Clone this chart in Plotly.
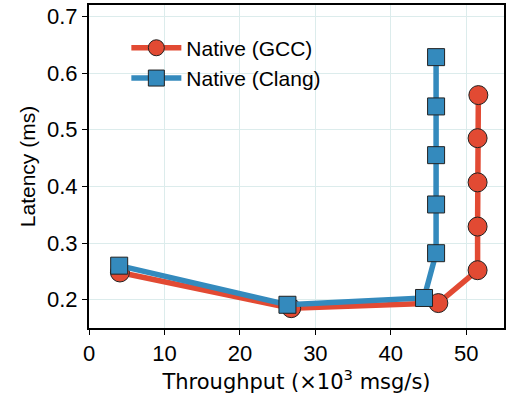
import plotly.graph_objects as go

gcc_x = [4.1, 26.8, 46.3, 51.5, 51.5, 51.5, 51.5, 51.6]
gcc_y = [0.248, 0.185, 0.194, 0.252, 0.329, 0.407, 0.485, 0.561]
clang_x = [4.0, 26.3, 44.4, 46.0, 46.0, 46.0, 46.0, 46.0]
clang_y = [0.260, 0.191, 0.203, 0.282, 0.368, 0.455, 0.541, 0.628]

x_ticks = [0, 10, 20, 30, 40, 50]
y_ticks = [0.2, 0.3, 0.4, 0.5, 0.6, 0.7]

red = "#E24A33"
blue = "#348ABD"
font = "Liberation Sans, Arial, sans-serif"
font_title = "DejaVu Sans, sans-serif"

fig = go.Figure()
fig.add_trace(go.Scatter(
    x=gcc_x, y=gcc_y, mode="lines+markers", name="Native (GCC)",
    line=dict(color=red, width=5.5),
    marker=dict(symbol="circle", size=19, color=red, line=dict(color="#222", width=1)),
))
fig.add_trace(go.Scatter(
    x=clang_x, y=clang_y, mode="lines+markers", name="Native (Clang)",
    line=dict(color=blue, width=5.5),
    marker=dict(symbol="square", size=17, color=blue, line=dict(color="#222", width=1)),
))

axis_common = dict(
    showgrid=True, gridcolor="#dcecec", gridwidth=1,
    showline=True, linecolor="black", linewidth=2, mirror=True,
    ticks="outside", ticklen=5, tickcolor="black", tickwidth=1,
    zeroline=False,
    tickfont=dict(family=font, size=22, color="black"),
)

fig.update_layout(
    width=509, height=401,
    margin=dict(l=89, r=3, t=5, b=73),
    plot_bgcolor="white", paper_bgcolor="white",
    font=dict(family=font, color="black"),
    xaxis=dict(range=[0, 55], tickvals=x_ticks,
               title=dict(text="Throughput (×10<sup>3</sup> msg/s)", font=dict(family=font_title, size=21), standoff=6),
               **axis_common),
    yaxis=dict(range=[0.15, 0.72], tickvals=y_ticks, tickformat=".1f",
               title=dict(text="Latency (ms)", font=dict(family=font, size=21), standoff=6),
               **axis_common),
    legend=dict(x=0.09, y=0.93, xanchor="left", yanchor="top",
                bgcolor="rgba(0,0,0,0)", font=dict(family=font, size=21),
                itemwidth=50, tracegroupgap=7),
    showlegend=True,
)

fig.write_html("out.html", config={"displayModeBar": False},
               post_script="document.body.style.margin='0';document.body.style.overflow='hidden';")
